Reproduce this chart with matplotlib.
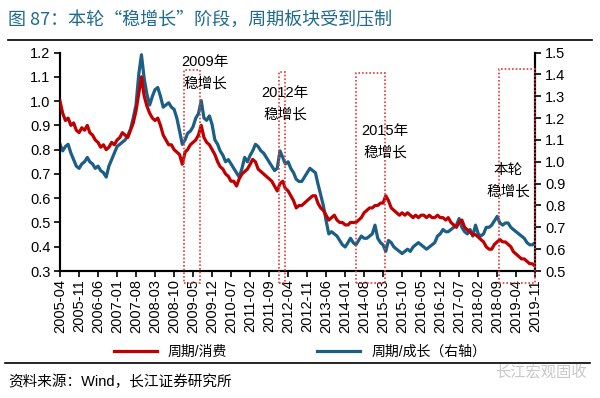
import numpy as np
import pandas as pd
import matplotlib
matplotlib.use("Agg")
import matplotlib.pyplot as plt
import matplotlib.dates as mdates
from matplotlib.patches import Rectangle
from matplotlib.lines import Line2D

plt.rcParams['font.family'] = ['Liberation Sans', 'Noto Sans CJK SC', 'DejaVu Sans']

# monthly points, 2005-04 .. 2019-11
dates = pd.date_range('2005-04-01', '2019-11-01', freq='MS')

cyc_cons = [1.00, 0.95, 0.92, 0.93, 0.90, 0.91, 0.88, 0.87, 0.89, 0.88,
            0.90, 0.87, 0.86, 0.84, 0.83, 0.81, 0.82, 0.80, 0.81, 0.83,
            0.82, 0.84, 0.85, 0.87, 0.86, 0.85, 0.88, 0.91, 0.96, 1.03,
            1.10, 1.02, 0.98, 0.95, 0.93, 0.92, 0.93, 0.90, 0.86, 0.84,
            0.82, 0.82, 0.80, 0.79, 0.78, 0.74, 0.79, 0.80, 0.82, 0.83,
            0.84, 0.86, 0.90, 0.85, 0.83, 0.82, 0.80, 0.78, 0.75, 0.73,
            0.72, 0.70, 0.69, 0.67, 0.67, 0.65, 0.68, 0.70, 0.71, 0.72,
            0.74, 0.76, 0.75, 0.72, 0.71, 0.70, 0.69, 0.68, 0.67, 0.65,
            0.63, 0.66, 0.67, 0.64, 0.63, 0.61, 0.59, 0.56, 0.57, 0.57,
            0.58, 0.59, 0.60, 0.61, 0.61, 0.58, 0.56, 0.55, 0.53, 0.51,
            0.52, 0.53, 0.51, 0.50, 0.50, 0.49, 0.49, 0.50, 0.50, 0.50,
            0.51, 0.52, 0.54, 0.55, 0.56, 0.56, 0.57, 0.57, 0.58, 0.58,
            0.61, 0.59, 0.56, 0.55, 0.54, 0.53, 0.54, 0.53, 0.54, 0.53,
            0.52, 0.53, 0.52, 0.53, 0.53, 0.52, 0.53, 0.52, 0.52, 0.53,
            0.52, 0.52, 0.51, 0.52, 0.50, 0.49, 0.48, 0.50, 0.51, 0.48,
            0.47, 0.46, 0.45, 0.45, 0.44, 0.43, 0.42, 0.40, 0.39, 0.39,
            0.41, 0.42, 0.43, 0.42, 0.42, 0.41, 0.40, 0.38, 0.37, 0.36,
            0.35, 0.35, 0.34, 0.33, 0.33, 0.32]

cyc_growth = [1.08, 1.05, 1.07, 1.08, 1.04, 1.01, 0.98, 0.97, 0.99, 1.00,
              1.02, 1.00, 0.99, 0.97, 0.98, 0.96, 0.95, 0.93, 0.98, 1.01,
              1.04, 1.07, 1.08, 1.09, 1.10, 1.12, 1.15, 1.20, 1.26, 1.40,
              1.49, 1.38, 1.31, 1.26, 1.30, 1.33, 1.34, 1.30, 1.25, 1.26,
              1.27, 1.25, 1.24, 1.20, 1.14, 1.08, 1.10, 1.13, 1.14, 1.16,
              1.20, 1.22, 1.28, 1.20, 1.19, 1.21, 1.17, 1.10, 1.08, 1.05,
              1.03, 1.00, 1.01, 0.99, 0.97, 0.95, 0.93, 0.97, 1.02, 1.00,
              1.03, 1.05, 1.08, 1.07, 1.05, 1.04, 1.02, 1.00, 0.98, 0.96,
              0.97, 1.05, 1.02, 0.99, 1.00, 0.97, 0.95, 0.92, 0.91, 0.91,
              0.93, 0.95, 0.97, 0.96, 0.95, 0.90, 0.85, 0.80, 0.73, 0.67,
              0.68, 0.67, 0.66, 0.64, 0.62, 0.61, 0.63, 0.65, 0.63, 0.62,
              0.64, 0.66, 0.65, 0.65, 0.66, 0.67, 0.71, 0.65, 0.63, 0.62,
              0.59, 0.64, 0.63, 0.61, 0.60, 0.59, 0.58, 0.59, 0.60, 0.59,
              0.61, 0.62, 0.63, 0.62, 0.61, 0.60, 0.61, 0.62, 0.63, 0.66,
              0.67, 0.69, 0.68, 0.68, 0.69, 0.70, 0.71, 0.74, 0.70, 0.68,
              0.67, 0.69, 0.66, 0.71, 0.67, 0.66, 0.67, 0.70, 0.70, 0.71,
              0.73, 0.75, 0.72, 0.71, 0.72, 0.72, 0.70, 0.69, 0.68, 0.67,
              0.66, 0.65, 0.63, 0.62, 0.62, 0.63]

# stimulus windows (start, end, box top on left axis, label)
periods = [('2009-01-15', '2009-07-20', 1.128, '2009年\n稳增长'),
           ('2011-12-25', '2012-02-25', 1.12, '2012年\n稳增长'),
           ('2014-05-05', '2015-03-20', 1.116, '2015年\n稳增长'),
           ('2018-09-20', '2019-11-01', 1.132, '本轮\n稳增长')]
label_pos = [(205, 73), (285, 104), (385, 142), (508, 181)]

red = '#C00000'
blue = '#1B5E86'

fig = plt.figure(figsize=(6, 3.98), dpi=100)
ax = fig.add_axes([0.100, 0.319, 0.792, 0.549])
ax2 = ax.twinx()

l1, = ax.plot(dates, cyc_cons, color=red, lw=2.3, label='周期/消费', zorder=3)
l2, = ax2.plot(dates, cyc_growth, color=blue, lw=2.3, label='周期/成长（右轴）', zorder=2)
ax.set_zorder(ax2.get_zorder() + 1)
ax.patch.set_visible(False)

ax.set_ylim(0.3, 1.2)
ax.set_yticks(np.arange(0.3, 1.21, 0.1))
ax.yaxis.set_major_formatter(matplotlib.ticker.FormatStrFormatter('%.1f'))
ax2.set_ylim(0.5, 1.5)
ax2.set_yticks(np.arange(0.5, 1.51, 0.1))
ax2.yaxis.set_major_formatter(matplotlib.ticker.FormatStrFormatter('%.1f'))

ticks = dates[::7]
ax.set_xlim(dates[0], dates[-1])
ax.set_xticks(ticks)
ax.set_xticklabels([d.strftime('%Y-%m') for d in ticks], rotation=90, fontsize=10.5)

for a in (ax, ax2):
    a.spines['top'].set_visible(False)
    for s in ('left', 'right', 'bottom'):
        a.spines[s].set_linewidth(1.5)
    a.tick_params(direction='out', length=4, width=1.2, labelsize=10.5, pad=3)
ax.tick_params(axis='x', pad=2)

for (s, e, top, txt), (px, py) in zip(periods, label_pos):
    x0 = mdates.date2num(pd.Timestamp(s))
    x1 = mdates.date2num(pd.Timestamp(e))
    ax.add_patch(Rectangle((x0, 0.25), x1 - x0, top - 0.25, fill=False,
                           ec='#E23B3B', lw=1.2, ls=(0, (1, 1.2)),
                           clip_on=False, zorder=4))
    fig.text(px / 600, 1 - py / 398, txt, ha='center', va='center',
             fontsize=10.5, linespacing=1.7)

fig.legend([l1, l2], ['周期/消费', '周期/成长（右轴）'], loc='center',
           bbox_to_anchor=(0.5, 1 - 352 / 398), ncol=2, frameon=False,
           fontsize=10, handlelength=3.1, handletextpad=0.8, columnspacing=6.5)

fig.text(8 / 600, 1 - 20 / 398, '图 87：本轮“稳增长”阶段，周期板块受到压制',
         color='#1F6A8E', fontsize=13, va='center', ha='left',
         family=['Noto Sans CJK SC', 'DejaVu Sans'])
fig.add_artist(Line2D([8 / 600, 592 / 600], [1 - 40 / 398] * 2, color='black', lw=1.2))
fig.add_artist(Line2D([5 / 600, 590 / 600], [1 - 363 / 398] * 2, color='black', lw=1.2))
fig.text(8 / 600, 1 - 382 / 398, '资料来源：Wind，长江证券研究所', fontsize=10.5,
         va='center', ha='left')
fig.text(587 / 600, 1 - 372 / 398, '长江宏观固收', fontsize=11, color='#c8c8c8',
         va='center', ha='right')

fig.savefig('out.png', dpi=100)
